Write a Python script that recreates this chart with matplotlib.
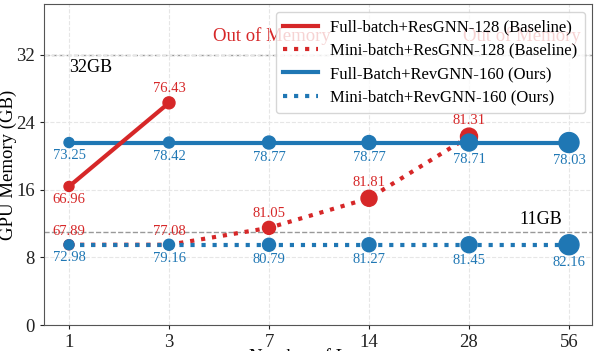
import matplotlib
matplotlib.use("Agg")
import matplotlib.pyplot as plt

plt.rcParams["font.family"] = ["Liberation Serif", "DejaVu Serif"]

# -----------------------------------------------------------------------
# Data
# -----------------------------------------------------------------------
layers = ["1", "3", "7", "14", "28", "56"]

# GPU memory (GB)
full_res_mem = [16.4, 26.3]
mini_res_mem = [9.5, 9.5, 11.5, 15.0, 22.3]
full_rev_mem = [21.6, 21.6, 21.6, 21.6, 21.6, 21.6]
mini_rev_mem = [9.5, 9.5, 9.5, 9.5, 9.5, 9.5]

# accuracy labels
full_res_acc = ["66.96", "76.43"]
mini_res_acc = ["67.89", "77.08", "81.05", "81.81", "81.31"]
full_rev_acc = ["73.25", "78.42", "78.77", "78.77", "78.71", "78.03"]
mini_rev_acc = ["72.98", "79.16", "80.79", "81.27", "81.45", "82.16"]

# marker diameters (px)
full_res_size = [10, 12]
mini_res_size = [10, 10, 13, 16, 17]
full_rev_size = [10, 11, 13, 14, 17, 20]
mini_rev_size = [10, 11, 13, 14, 16, 20]

RED = "#d62728"
BLUE = "#1f77b4"
PX = 0.72  # points per pixel at dpi 100


def draw_series(ax, mem, acc, sizes, color, ls, label, above, z):
    xs = list(range(len(mem)))
    ax.plot(xs, mem, color=color, linestyle=ls, linewidth=3, label=label, zorder=z)
    ax.scatter(xs, mem, s=[(d * PX) ** 2 for d in sizes], color=color, zorder=z + 0.5)
    for i, (x, y) in enumerate(zip(xs, mem)):
        up = above[i] if isinstance(above, list) else above
        off = (sizes[i] / 2 + 8) * PX
        ax.annotate(acc[i], (x, y), xytext=(0, off if up else -off),
                    textcoords="offset points", ha="center", va="center",
                    color=color, fontsize=10.5, zorder=6)


fig = plt.figure(figsize=(5.98, 3.51), dpi=100)
ax = fig.add_axes([44 / 598, 1 - 325 / 351, 548 / 598, 321 / 351])

ax.grid(True, color="#e6e6e6", linestyle="--", linewidth=0.8, zorder=0)
ax.axhline(32, color="#999999", linestyle="--", linewidth=1, zorder=1)
ax.axhline(11, color="#999999", linestyle="--", linewidth=1, zorder=1)

draw_series(ax, mini_res_mem, mini_res_acc, mini_res_size, RED, ":",
            "Mini-batch+ResGNN-128 (Baseline)", True, 2)
draw_series(ax, mini_rev_mem, mini_rev_acc, mini_rev_size, BLUE, ":",
            "Mini-batch+RevGNN-160 (Ours)", False, 3)
draw_series(ax, full_rev_mem, full_rev_acc, full_rev_size, BLUE, "-",
            "Full-Batch+RevGNN-160 (Ours)", False, 3)
draw_series(ax, full_res_mem, full_res_acc, full_res_size, RED, "-",
            "Full-batch+ResGNN-128 (Baseline)", [False, True], 4)

ax.text(0, 30.5, "32GB", ha="left", va="center", fontsize=13)
ax.text(4.5, 12.5, "11GB", ha="left", va="center", fontsize=13)
ax.text(2.03, 34.2, "Out of Memory", ha="center", va="center", fontsize=13.5, color=RED, zorder=1)
ax.text(4.53, 34.2, "Out of Memory", ha="center", va="center", fontsize=13.5, color=RED, zorder=1)

ax.set_xlim(-0.25, 5.23)
ax.set_ylim(0, 38)
ax.set_xticks(range(len(layers)))
ax.set_xticklabels(layers)
ax.set_yticks([0, 8, 16, 24, 32])
ax.tick_params(labelsize=13.5, colors="#222222", length=3)
for sp in ax.spines.values():
    sp.set_color("#555555")

ax.set_xlabel("Number of Layers", fontsize=13.5)
ax.xaxis.set_label_coords(0.5, -0.073)
ax.set_ylabel("GPU Memory (GB)", fontsize=13.5)
ax.yaxis.set_label_coords(-0.05, 0.5)

handles, labels = ax.get_legend_handles_labels()
order = [3, 0, 2, 1]
ax.legend([handles[i] for i in order], [labels[i] for i in order],
          loc="upper right", bbox_to_anchor=(0.987, 0.975), borderaxespad=0,
          fontsize=12, framealpha=0.8, handlelength=2.1,
          handletextpad=0.7, labelspacing=0.44, borderpad=0.45)

plt.savefig("out.png", dpi=100)
